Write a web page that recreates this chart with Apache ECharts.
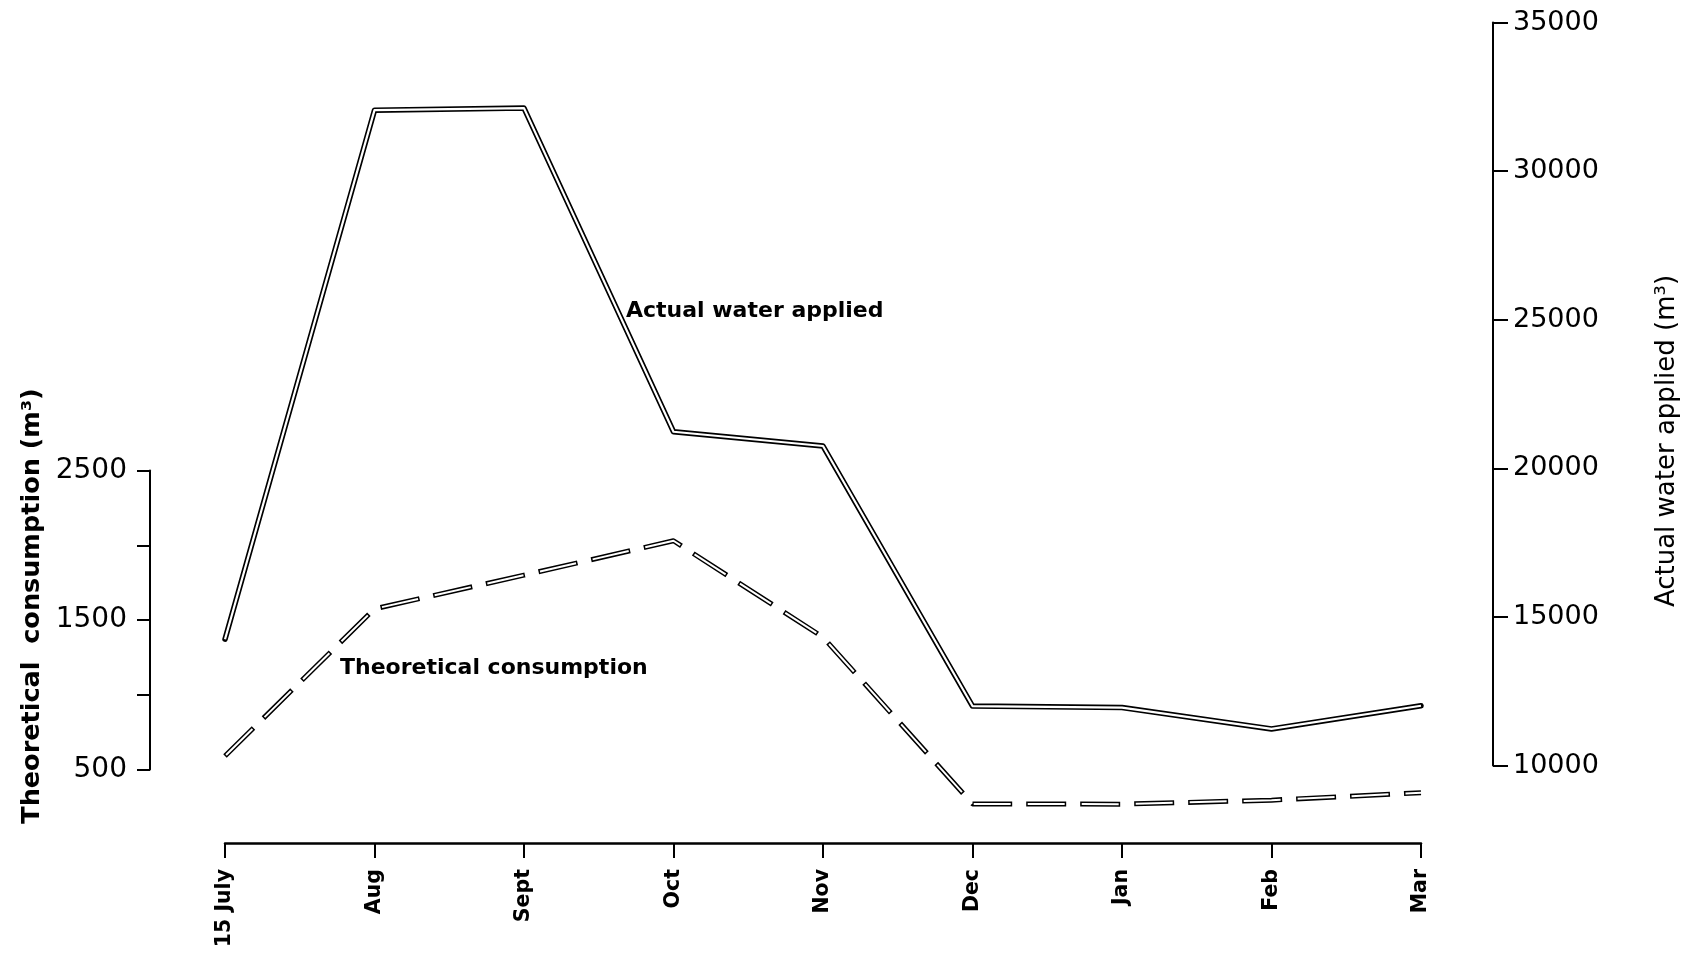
<!DOCTYPE html>
<html>
<head>
<meta charset="utf-8">
<script src="https://cdn.jsdelivr.net/npm/echarts@6/dist/echarts.min.js"></script>
<style>
  html, body { margin: 0; padding: 0; background: #fff; }
  #chart { width: 1684px; height: 961px; }
</style>
</head>
<body>
<div id="chart"></div>
<script>
// ---- data ----
const months = ['15 July', 'Aug', 'Sept', 'Oct', 'Nov', 'Dec', 'Jan', 'Feb', 'Mar'];
const actualWater = [14250, 32050, 32120, 21230, 20750, 12000, 11950, 11230, 12010];   // m3 (right axis)
const theoretical = [590, 1575, 1800, 2030, 1385, 270, 268, 295, 345];                // m3 (left axis)
const leftTickLabels = [500, 1500, 2500];
const rightTickLabels = [10000, 15000, 20000, 25000, 30000, 35000];

const FONT = 'DejaVu Sans';
const chart = echarts.init(document.getElementById('chart'), null, { renderer: 'canvas' });

const option = {
  backgroundColor: '#ffffff',
  animation: false,
  grid: [
    { left: 225, width: 1196, top: 470.5, height: 299 },
    { left: 225, width: 1196, top: 22.5, height: 743 }
  ],
  xAxis: [
    {
      gridIndex: 0, type: 'category', data: months, boundaryGap: false,
      position: 'bottom', offset: 73.5,
      axisLine: { show: true, lineStyle: { color: '#000', width: 2.5 } },
      axisTick: { show: true, length: 15, alignWithLabel: true, lineStyle: { color: '#000', width: 2 } },
      axisLabel: { interval: 0, rotate: 90, margin: 26, fontSize: 20.5, fontWeight: 'bold', color: '#000', fontFamily: FONT },
      splitLine: { show: false }
    },
    {
      gridIndex: 1, type: 'category', data: months, boundaryGap: false, show: false
    }
  ],
  yAxis: [
    {
      gridIndex: 0, type: 'value', min: leftTickLabels[0], max: leftTickLabels[leftTickLabels.length - 1], interval: 500,
      position: 'left', offset: 75,
      axisLine: { show: true, lineStyle: { color: '#000', width: 2 } },
      axisTick: { show: true, length: 13, lineStyle: { color: '#000', width: 2 } },
      axisLabel: {
        margin: 23, fontSize: 28, color: '#000', fontFamily: FONT,
        formatter: v => leftTickLabels.includes(v) ? String(v) : ''
      },
      splitLine: { show: false }
    },
    {
      gridIndex: 1, type: 'value', min: rightTickLabels[0], max: rightTickLabels[rightTickLabels.length - 1], interval: 5000,
      position: 'right', offset: 72,
      axisLine: { show: true, lineStyle: { color: '#000', width: 2 } },
      axisTick: { show: true, length: 15, lineStyle: { color: '#000', width: 2 } },
      axisLabel: {
        margin: 20, fontSize: 27, color: '#000', fontFamily: FONT,
        formatter: v => rightTickLabels.includes(v) ? String(v) : ''
      },
      splitLine: { show: false }
    }
  ],
  series: [
    {
      name: 'Actual water applied (outline)', type: 'line', xAxisIndex: 1, yAxisIndex: 1,
      data: actualWater, symbol: 'none', z: 3, silent: true,
      lineStyle: { color: '#000', width: 5.5, cap: 'round', join: 'round' }
    },
    {
      name: 'Actual water applied', type: 'line', xAxisIndex: 1, yAxisIndex: 1,
      data: actualWater, symbol: 'none', z: 4, silent: true,
      lineStyle: { color: '#fff', width: 2.2, cap: 'butt', join: 'round' }
    },
    {
      name: 'Theoretical consumption (outline)', type: 'line', xAxisIndex: 0, yAxisIndex: 0,
      data: theoretical, symbol: 'none', clip: false, z: 3, silent: true,
      lineStyle: { color: '#000', width: 5, type: [40, 14], cap: 'butt', join: 'round' }
    },
    {
      name: 'Theoretical consumption', type: 'line', xAxisIndex: 0, yAxisIndex: 0,
      data: theoretical, symbol: 'none', clip: false, z: 4, silent: true,
      lineStyle: { color: '#fff', width: 2, type: [37, 17], dashOffset: -1.5, cap: 'butt', join: 'round' }
    }
  ],
  graphic: [
    {
      type: 'text', x: 626, y: 311,
      style: { text: 'Actual water applied', fill: '#000', fontSize: 22, fontWeight: 'bold', fontFamily: FONT, align: 'left', verticalAlign: 'middle' }
    },
    {
      type: 'text', x: 340, y: 668,
      style: { text: 'Theoretical consumption', fill: '#000', fontSize: 22, fontWeight: 'bold', fontFamily: FONT, align: 'left', verticalAlign: 'middle' }
    },
    {
      type: 'text', x: 32, y: 606, rotation: Math.PI / 2,
      style: { text: 'Theoretical  consumption (m³)', fill: '#000', fontSize: 25.5, fontWeight: 'bold', fontFamily: FONT, align: 'center', verticalAlign: 'middle' }
    },
    {
      type: 'text', x: 1667, y: 441, rotation: Math.PI / 2,
      style: { text: 'Actual water applied (m³)', fill: '#000', fontSize: 26, fontFamily: FONT, align: 'center', verticalAlign: 'middle' }
    }
  ]
};
chart.setOption(option);
</script>
</body>
</html>
